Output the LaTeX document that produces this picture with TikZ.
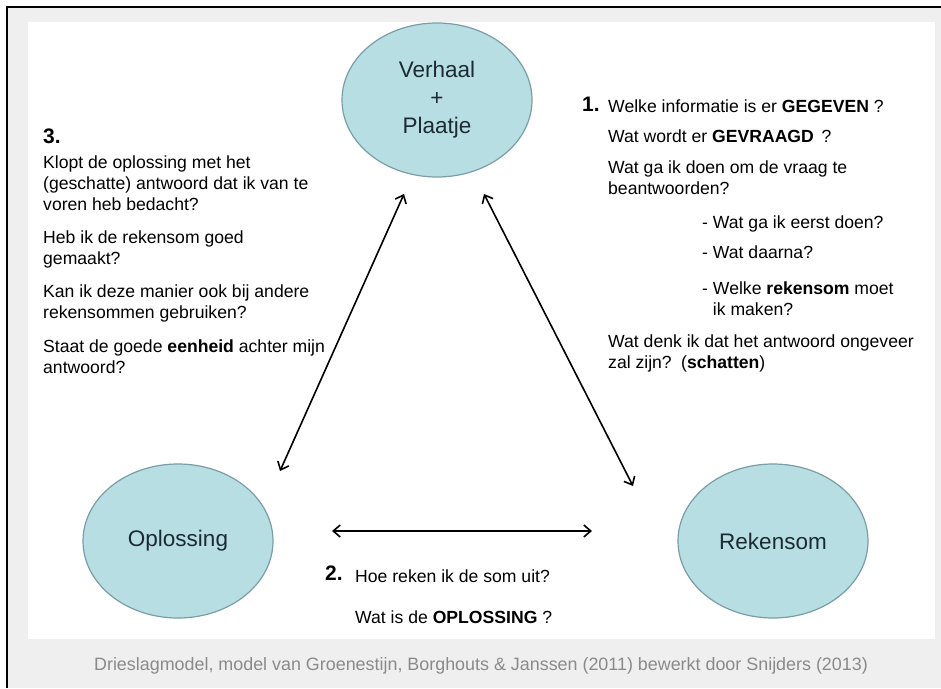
\documentclass[tikz,border=0pt]{standalone}
\usepackage{fontspec}
\setmainfont{Liberation Sans}
\usetikzlibrary{arrows.meta}
\usetikzlibrary{shapes.geometric}
\definecolor{bolblauw}{HTML}{B7DEE3}
\definecolor{bolrand}{HTML}{7A9EA6}
\definecolor{boltekst}{HTML}{1C2B33}
\definecolor{achtergrond}{HTML}{EFEFEF}
\definecolor{bijschrift}{HTML}{8A8A8A}
\tikzset{
  bol/.style={ellipse, minimum width=190pt, minimum height=154pt, fill=bolblauw, draw=bolrand, line width=1.2pt, text=boltekst, align=center, font=\fontsize{22.5}{28}\selectfont},
  vraag/.style={anchor=base west, inner sep=0pt, align=left, font=\fontsize{17.6}{21}\selectfont},
  nummer/.style={anchor=base west, inner sep=0pt, font=\fontsize{21}{24}\selectfont\bfseries},
  pijl/.style={<->, >={Straight Barb[length=7pt,width=12pt]}, line width=1.6pt}
}
\begin{document}
\begin{tikzpicture}[x=1pt,y=-1pt]
  \useasboundingbox (0,0) rectangle (941,688);
  % achtergrond en kader
  \fill[white] (0,0) rectangle (941,688);
  \fill[achtergrond] (7,7) rectangle (941,688);
  \fill[white] (28,22) rectangle (935,639);
  \draw[line width=2.5pt] (7,688) -- (7,7) -- (941,7);
  % de drie bollen
  \draw (437,100) node[bol] (V) {Verhaal\\+\\Plaatje};
  \draw (178,541) node[bol] (O) {Oplossing};
  \draw (773,541) node[bol] (R) {Rekensom};
  % pijlen
  \coordinate (VO) at (404,194);
  \coordinate (OV) at (280,471);
  \coordinate (VR) at (484,194);
  \coordinate (RV) at (633,486);
  \coordinate (OR) at (332,531);
  \coordinate (RO) at (592,531);
  \draw[pijl] (VO) to (OV);
  \draw[pijl] (VR) to (RV);
  \draw[pijl] (OR) to (RO);
  % stap 3 (basislijn = laatste regel)
  \draw (43,143) node[nummer] (N3) {3.};
  \draw (43,210) node[vraag] (A1) {Klopt de oplossing met het\\(geschatte) antwoord dat ik van te\\voren heb bedacht?};
  \draw (43,264) node[vraag] (A2) {Heb ik de rekensom goed\\gemaakt?};
  \draw (43,318) node[vraag] (A3) {Kan ik deze manier ook bij andere\\rekensommen gebruiken?};
  \draw (43,373) node[vraag] (A4) {Staat de goede \textbf{eenheid} achter mijn\\antwoord?};
  % stap 1
  \draw (582,111) node[nummer] (N1) {1.};
  \draw (608,112) node[vraag] (B1) {Welke informatie is er \textbf{GEGEVEN} ?};
  \draw (608,142) node[vraag] (B2) {Wat wordt er \textbf{GEVRAAGD}\, ?};
  \draw (608,194) node[vraag] (B3) {Wat ga ik doen om de vraag te\\beantwoorden?};
  \draw (702,228) node[vraag] (B4) {- Wat ga ik eerst doen?};
  \draw (702,258) node[vraag] (B5) {- Wat daarna?};
  \draw (702,315) node[vraag] (B6) {- Welke \textbf{rekensom} moet\\\phantom{- }ik maken?};
  \draw (608,368) node[vraag] (B7) {Wat denk ik dat het antwoord ongeveer\\zal zijn?\, (\textbf{schatten})};
  % stap 2
  \draw (325,580) node[nummer] (N2) {2.};
  \draw (355,582) node[vraag] (C1) {Hoe reken ik de som uit?};
  \draw (355,623) node[vraag] (C2) {Wat is de \textbf{OPLOSSING} ?};
  % bijschrift
  \draw (481,666) node[text=bijschrift, font=\fontsize{17.9}{21}\selectfont] (bron) {Drieslagmodel, model van Groenestijn, Borghouts \& Janssen (2011) bewerkt door Snijders (2013)};
\end{tikzpicture}
\end{document}
